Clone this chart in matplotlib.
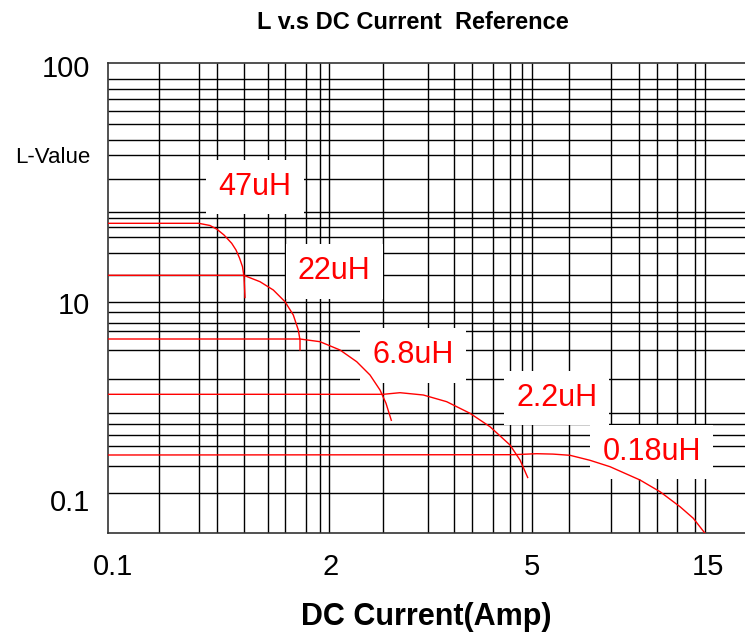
import matplotlib
matplotlib.use('Agg')
import matplotlib.pyplot as plt

plt.rcParams['font.family'] = ['Liberation Sans', 'DejaVu Sans']

# --- GRAPH PAPER (offsets from the top-left corner of the plot area) ---
x_grid = [51.0, 90.4, 109.0, 135.4, 159.4, 176.4, 197.4, 211.4, 220.7, 275.0,
          320.0, 345.7, 364.0, 384.4, 401.4, 413.7, 423.7, 460.7, 502.4, 531.0,
          548.7, 568.7, 586.4, 597.0]
y_grid = [16.0, 25.4, 36.0, 47.4, 60.7, 77.0, 91.7, 116.0, 149.0, 155.0,
          163.4, 174.0, 190.0, 212.0, 239.0, 249.0, 259.4, 267.4, 287.0, 316.0,
          349.7, 361.0, 372.0, 383.0, 402.4, 429.4]
x_max = 636.7
y_max = 470.0

# --- TICKS ---
x_tick_pos = [5, 222, 424, 600]
x_tick_labels = ['0.1', '2', '5', '15']
y_tick_pos = [2.7, 91.7, 240, 437]
y_tick_labels = ['100', 'L-Value', '10', '0.1']

# --- L vs DC current curves ---
l47_x = [0, 90.4, 101.7, 108.7, 115.7, 123.4, 127.7, 131.2, 134.2, 135.7, 136.2, 136.7]
l47_y = [160, 160, 162.2, 166, 171.7, 180, 186.7, 194.7, 203.4, 213.4, 223.7, 234.2]

l22_x = [0, 135.4, 151.7, 165, 176.7, 185, 190, 191.7, 191.7]
l22_y = [212, 212, 218.4, 226.7, 238.4, 251.7, 266.7, 276.7, 286.7]

l68_x = [0, 191.7, 211.7, 231.7, 248.4, 261.7, 271.7, 277.7, 283]
l68_y = [275.7, 275.7, 278.4, 286.7, 298.4, 311.7, 326.7, 340, 357]

l22b_x = [0, 275, 291.7, 315, 338.4, 361.7, 381.7, 401.7, 411.7, 419.4]
l22b_y = [331, 331, 329.4, 331.7, 338.4, 350, 363.4, 381.7, 396.7, 414.2]

l018_x = [0, 405, 428.4, 444.7, 461.7, 481.7, 501.7, 531.7, 551.7, 571.7, 585, 596.7]
l018_y = [391.7, 391.4, 390.4, 390.8, 392, 397, 403.4, 416.7, 428.4, 443.4, 455, 470]

curves = [(l47_x, l47_y), (l22_x, l22_y), (l68_x, l68_y),
          (l22b_x, l22b_y), (l018_x, l018_y)]

label_text = ['47uH', '22uH', '6.8uH', '2.2uH', '0.18uH']
label_x = [146.7, 225.9, 304.9, 448.4, 543.2]
label_y = [131.7, 216.0, 300.0, 342.7, 396.7]

fig = plt.figure(figsize=(7.45, 6.32), dpi=100)
ax = fig.add_axes([108.3 / 745, (632 - 533.3) / 632, 1 - 108.3 / 745, 470 / 632])
ax.set_xlim(0, x_max)
ax.set_ylim(y_max, 0)

ax.vlines(x_grid, 0, y_max, colors='black', linewidth=1.0, zorder=1)
ax.hlines(y_grid, 0, x_max, colors='black', linewidth=1.0, zorder=1)

for s in ['left', 'top', 'bottom']:
    ax.spines[s].set_linewidth(1.2)
    ax.spines[s].set_color('#333333')
ax.spines['right'].set_visible(False)

for xs, ys in curves:
    ax.plot(xs, ys, color='red', linewidth=1.0, zorder=4)

for t, x, y in zip(label_text, label_x, label_y):
    ax.text(x, y, t, color='red', fontsize=22, ha='center', va='baseline', zorder=3,
            bbox=dict(facecolor='white', edgecolor='none', boxstyle='square,pad=0.4'))

ax.set_xticks(x_tick_pos)
ax.set_xticklabels(x_tick_labels)
ax.set_yticks(y_tick_pos)
ax.set_yticklabels(y_tick_labels)
ax.tick_params(axis='both', length=0, labelsize=21)
ax.tick_params(axis='x', pad=14)
ax.tick_params(axis='y', pad=13)
ax.get_yticklabels()[1].set_fontsize(16)

ax.set_xlabel('DC Current(Amp)', fontsize=22, fontweight='bold', labelpad=15)
ax.set_title('L v.s DC Current  Reference', fontsize=17, fontweight='bold',
             x=(413 - 108.3) / x_max, pad=25)

fig.savefig('out.png', dpi=100)
